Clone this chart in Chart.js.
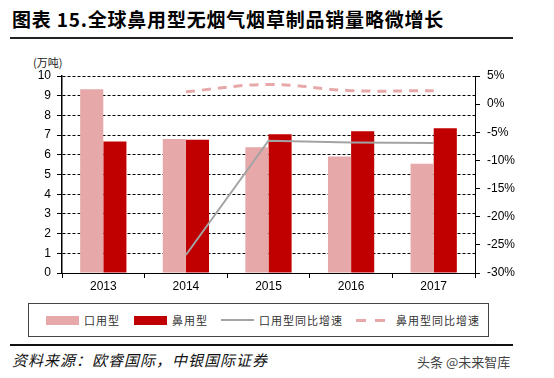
<!DOCTYPE html>
<html>
<head>
<meta charset="utf-8">
<script src="https://cdn.jsdelivr.net/npm/chart.js@4"></script>
<style>
  body { margin: 0; width: 554px; height: 378px; background: #fff; position: relative; overflow: hidden; font-family: "Noto Sans CJK SC", sans-serif; }
  #title { position: absolute; left: 12px; top: 5px; font-size: 19px; letter-spacing: 0.8px; font-weight: bold; color: #000; white-space: nowrap; }
  #rule1 { position: absolute; left: 10px; top: 37px; width: 503px; height: 2px; background: #222; }
  #unit { position: absolute; left: 33px; top: 54px; font-size: 11px; color: #222; }
  #wrap { position: absolute; left: 0; top: 60px; width: 554px; height: 235px; }
  #legend { position: absolute; left: 28px; top: 303px; width: 459px; height: 32px; border: 1px solid #444; font-size: 11px; letter-spacing: 1px; color: #333; }
  .item { position: absolute; top: 0; height: 32px; display: flex; align-items: center; }
  .item span { margin-left: 5px; }
  #rule2 { position: absolute; left: 10px; top: 344px; width: 503px; height: 2px; background: #111; }
  #source { position: absolute; left: 12px; top: 349px; font-size: 15px; letter-spacing: 1px; font-style: italic; color: #111; }
  #mark { position: absolute; left: 417px; top: 352px; font-size: 13px; color: #444; }
</style>
</head>
<body>
<div id="title">图表 15.全球鼻用型无烟气烟草制品销量略微增长</div>
<div id="rule1"></div>
<div id="unit">(万吨)</div>
<div id="wrap"><canvas id="chart"></canvas></div>
<div id="legend"></div>
<div id="rule2"></div>
<div id="source">资料来源：欧睿国际，中银国际证券</div>
<div id="mark">头条 @未来智库</div>
<script>
Chart.defaults.color = '#000';
Chart.defaults.font.family = '"Liberation Sans", Arial, sans-serif';
Chart.defaults.font.size = 12;

const lightColor = '#e6a8a8';
const darkColor = '#c00000';
const grayColor = '#a3a3a3';

const years = ['2013', '2014', '2015', '2016', '2017'];
const oralSales = [9.33, 6.8, 6.38, 5.91, 5.54];
const nasalSales = [6.67, 6.76, 7.04, 7.2, 7.35];
const oralGrowth = [null, -26.8, -6.5, -6.8, -6.9];
const nasalGrowth = [null, 2.2, 3.5, 2.4, 2.4];
const seriesNames = ['口用型', '鼻用型', '口用型同比增速', '鼻用型同比增速'];

new Chart(document.getElementById('chart'), {
  type: 'bar',
  data: {
    labels: years,
    datasets: [
      { label: seriesNames[0], data: oralSales, backgroundColor: lightColor, yAxisID: 'y', order: 2 },
      { label: seriesNames[1], data: nasalSales, backgroundColor: darkColor, yAxisID: 'y', order: 2 },
      { type: 'line', label: seriesNames[2], data: oralGrowth, borderColor: grayColor, borderWidth: 2, pointRadius: 0, tension: 0, yAxisID: 'y2', order: 0 },
      { type: 'line', label: seriesNames[3], data: nasalGrowth, borderColor: lightColor, borderWidth: 3, borderDash: [9, 7], pointRadius: 0, tension: 0.4, yAxisID: 'y2', order: 0 }
    ]
  },
  options: {
    responsive: true,
    maintainAspectRatio: false,
    animation: false,
    layout: { padding: { top: 16 } },
    datasets: { bar: { categoryPercentage: 0.56, barPercentage: 1 } },
    plugins: { legend: { display: false }, tooltip: { enabled: false } },
    scales: {
      x: {
        grid: { drawOnChartArea: false, drawTicks: true, tickLength: 5, color: '#000', offset: true },
        border: { color: '#000', width: 1 },
        ticks: { padding: 1 },
        afterFit: (s) => { s.height = 22; }
      },
      y: {
        position: 'left',
        min: 0, max: 10,
        ticks: { stepSize: 1, padding: 6 },
        grid: { color: '#000', tickLength: 5 },
        border: { color: '#000', width: 1.5, dash: [3, 2] },
        afterFit: (s) => { s.width = 62; }
      },
      y2: {
        position: 'right',
        min: -30, max: 5,
        ticks: { stepSize: 5, padding: 7, callback: (v) => v + '%' },
        grid: { drawOnChartArea: false, color: '#000', tickLength: 5 },
        border: { color: '#000', width: 1 },
        afterFit: (s) => { s.width = 79; }
      }
    }
  }
});

// legend box, items placed like the original
const legend = document.getElementById('legend');
const itemLeft = [17, 105, 192, 327];
const swatches = [
  `<div style="width:33px;height:9px;background:${lightColor}"></div>`,
  `<div style="width:33px;height:9px;background:${darkColor}"></div>`,
  `<div style="width:33px;height:1.5px;background:${grayColor}"></div>`,
  `<div style="width:30px;height:3px;margin-right:5px;background:repeating-linear-gradient(to right, ${lightColor} 0 10px, transparent 10px 19px)"></div>`
];
seriesNames.forEach((name, i) => {
  const el = document.createElement('div');
  el.className = 'item';
  el.style.left = itemLeft[i] + 'px';
  el.innerHTML = swatches[i] + '<span>' + name + '</span>';
  legend.appendChild(el);
});
</script>
</body>
</html>
